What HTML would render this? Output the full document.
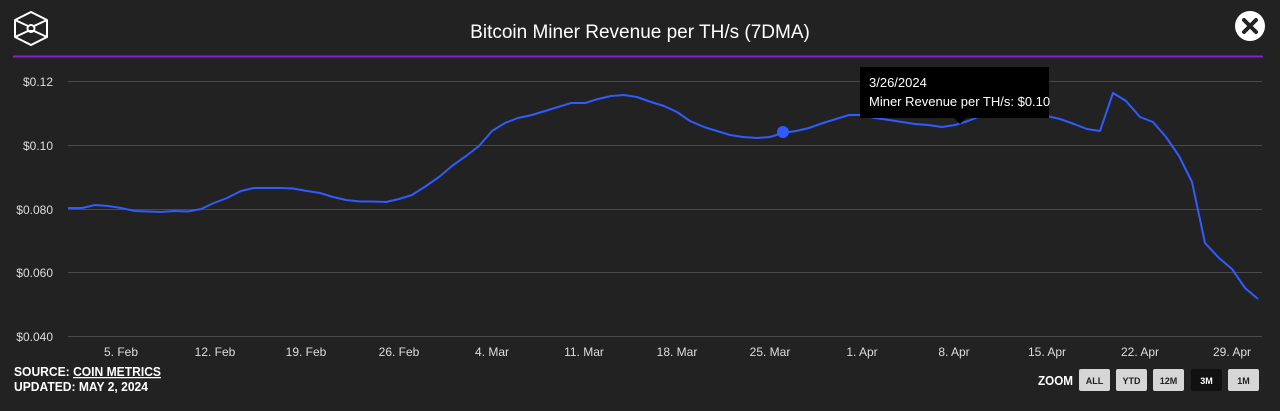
<!DOCTYPE html>
<html><head><meta charset="utf-8"><style>
body{margin:0;width:1280px;height:406px;background:#222;overflow:hidden;font-family:"Liberation Sans",sans-serif}
</style></head><body>
<svg width="1280" height="406" xmlns="http://www.w3.org/2000/svg" font-family="Liberation Sans, sans-serif">
<rect width="1280" height="406" fill="#222"/>
<g fill="none" stroke="#fff" stroke-width="2" stroke-linejoin="round">
<polygon points="31,12 47,20 47,37 31,45 15,37 15,20"/>
<line x1="15" y1="20" x2="28" y2="26"/>
<line x1="47" y1="20" x2="34" y2="26"/>
<polyline points="15,37 28,31 34,31 47,37"/>
<circle cx="31" cy="28.5" r="3.5"/>
</g>
<text x="640" y="38" fill="#fff" font-size="19" text-anchor="middle">Bitcoin Miner Revenue per TH/s (7DMA)</text>
<circle cx="1250" cy="26" r="15" fill="#fff"/>
<path d="M1244,20 L1256,32 M1256,20 L1244,32" stroke="#222" stroke-width="4" stroke-linecap="round"/>
<line x1="13" y1="56.5" x2="1263" y2="56.5" stroke="#8a1fd0" stroke-width="2"/>
<g stroke="#4a4a4a" stroke-width="1">
<line x1="68" y1="81.5" x2="1262" y2="81.5"/><line x1="68" y1="145.5" x2="1262" y2="145.5"/>
<line x1="68" y1="209.5" x2="1262" y2="209.5"/><line x1="68" y1="272.5" x2="1262" y2="272.5"/>
<line x1="68" y1="336.5" x2="1262" y2="336.5"/>
</g>
<g fill="#ddd" font-size="12" text-anchor="end">
<text x="53" y="86">$0.12</text><text x="53" y="150">$0.10</text><text x="53" y="214">$0.080</text>
<text x="53" y="277">$0.060</text><text x="53" y="341">$0.040</text>
</g>
<g fill="#ddd" font-size="12" text-anchor="middle">
<text x="121" y="356">5. Feb</text><text x="215" y="356">12. Feb</text><text x="306" y="356">19. Feb</text>
<text x="399" y="356">26. Feb</text><text x="492" y="356">4. Mar</text><text x="584" y="356">11. Mar</text>
<text x="677" y="356">18. Mar</text><text x="770" y="356">25. Mar</text><text x="862" y="356">1. Apr</text>
<text x="954" y="356">8. Apr</text><text x="1047" y="356">15. Apr</text><text x="1140" y="356">22. Apr</text>
<text x="1232" y="356">29. Apr</text>
</g>
<polyline fill="none" stroke="#2f5bff" stroke-width="2" stroke-linejoin="round" points="68,208 82,208 95,205 108,206 121,208 135,211 148,211.5 161,212 174,211 188,211.5 201,209 214,203 227,198 241,191 254,188 267,188 280,188 293,188.5 307,191 320,193 333,197 346,200 360,201.5 373,201.5 386,202 399,199 412,195 426,186 439,177 452,166 466,156 479,146 492,131 505,123 518,118 532,115 545,111 558,107 571,103 585,103 598,99 611,96 624,95 637,97 651,102 664,106 677,112 690,121 704,127 717,131 730,135 743,137 757,138 770,137 783,133 796,131 809,128 823,123 836,119 849,115 862,115 875,118 889,120 902,122 915,124 928,125 942,127 955,125 968,121 981,116 994,111 1008,106 1021,108 1034,112 1047,116 1060,119 1074,124 1087,129 1100,131 1113,93 1126,101 1140,117 1153,122 1166,137 1179,156 1192,182 1205,243 1219,258 1232,269 1245,288 1258,299"/>
<circle cx="783" cy="132" r="6" fill="#2f5bff"/>
<path d="M860,67 H1049 V118 H966 L960,124 L954,118 H860 Z" fill="#000"/>
<text x="869" y="87" fill="#fff" font-size="13">3/26/2024</text>
<text x="869" y="106" fill="#fff" font-size="13">Miner Revenue per TH/s: $0.10</text>
<g fill="#fff" font-size="12.5" font-weight="bold">
<text x="14" y="376" textLength="147" lengthAdjust="spacingAndGlyphs">SOURCE: <tspan text-decoration="underline">COIN METRICS</tspan></text>
<text x="14" y="391" textLength="134" lengthAdjust="spacingAndGlyphs">UPDATED: MAY 2, 2024</text>
<text x="1038" y="385" textLength="35" lengthAdjust="spacingAndGlyphs">ZOOM</text>
</g>
<g font-size="9" font-weight="bold" text-anchor="middle">
<rect x="1079" y="369" width="31" height="22" rx="2" fill="#d6d6d6"/><text x="1094.5" y="384" fill="#222">ALL</text>
<rect x="1116" y="369" width="31" height="22" rx="2" fill="#d6d6d6"/><text x="1131.5" y="384" fill="#222">YTD</text>
<rect x="1153" y="369" width="31" height="22" rx="2" fill="#d6d6d6"/><text x="1168.5" y="384" fill="#222">12M</text>
<rect x="1191" y="369" width="31" height="22" rx="2" fill="#111"/><text x="1206.5" y="384" fill="#fff">3M</text>
<rect x="1228" y="369" width="31" height="22" rx="2" fill="#d6d6d6"/><text x="1243.5" y="384" fill="#222">1M</text>
</g>
</svg>
</body></html>
